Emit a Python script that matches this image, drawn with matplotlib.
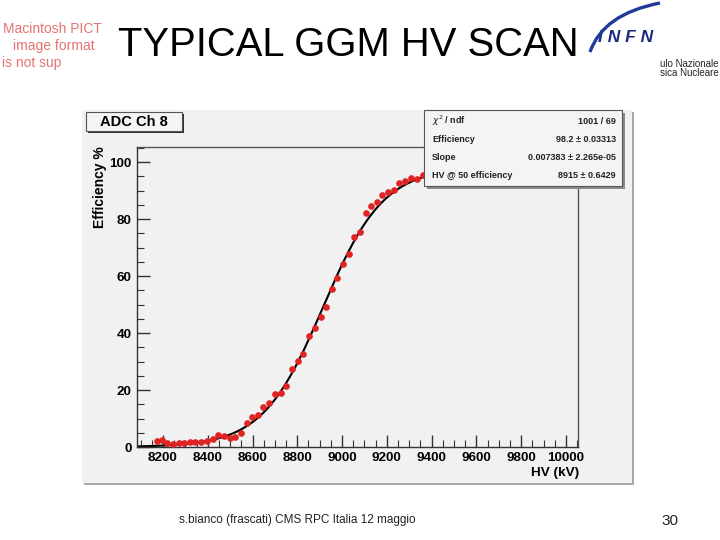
import numpy as np
import matplotlib
matplotlib.use("Agg")
import matplotlib.pyplot as plt
from matplotlib.patches import Rectangle, PathPatch
from matplotlib.path import Path
from matplotlib.transforms import IdentityTransform
from matplotlib.ticker import MultipleLocator

plt.rcParams["font.family"] = ["Liberation Sans", "DejaVu Sans"]

# ======================== data ======================== #
hv = [8172, 8194, 8219, 8246, 8270, 8295, 8320, 8345, 8370, 8395,
      8422, 8447, 8473, 8499, 8522, 8549, 8574, 8599, 8626, 8648,
      8675, 8700, 8726, 8750, 8775, 8802, 8827, 8854, 8879, 8905,
      8928, 8954, 8979, 9006, 9031, 9055, 9080, 9106, 9129, 9155,
      9180, 9207, 9232, 9256, 9281, 9307, 9333, 9360]
eff = [2.1, 2.4, 1.5, 1.2, 1.4, 1.5, 1.7, 1.7, 1.8, 2.2,
       2.7, 4.1, 3.9, 3.2, 3.6, 4.8, 8.3, 10.4, 11.4, 14.1,
       15.6, 18.6, 18.8, 21.4, 27.3, 30.1, 32.8, 38.9, 41.6, 45.7,
       49.0, 55.3, 59.4, 64.2, 67.9, 73.8, 75.6, 82.3, 84.6, 85.9,
       88.4, 89.6, 90.2, 92.5, 93.3, 94.3, 94.2, 95.4]

# fit parameters as printed in the stats box
fit_eff = 98.2
fit_slope = 0.007383
fit_hv50 = 8915

stat_names = ["$\\chi^2$ / ndf", "Efficiency", "Slope", "HV @ 50 efficiency"]
stat_values = ["1001 / 69", "98.2 \u00b1 0.03313", "0.007383 \u00b1 2.265e-05", "8915 \u00b1 0.6429"]
x_ticks = [8200, 8400, 8600, 8800, 9000, 9200, 9400, 9600, 9800, 10000]

W, H = 720, 540


def fx(px):
    return px / W


def fy(py):
    return 1 - py / H


fig = plt.figure(figsize=(7.2, 5.4), dpi=100)
fig.patch.set_facecolor("white")

# canvas background with shadow
fig.add_artist(Rectangle((fx(84), fy(485)), (634 - 84) / W, (485 - 112) / H,
                         transform=fig.transFigure, facecolor="#a8a8a8", edgecolor="none", zorder=-3))
fig.add_artist(Rectangle((fx(82), fy(483)), (632 - 82) / W, (483 - 110) / H,
                         transform=fig.transFigure, facecolor="#f1f1f1", edgecolor="none", zorder=-2))

ax = fig.add_axes([fx(137), fy(447), (578 - 137) / W, (447 - 147) / H])
ax.set_facecolor("#f1f1f1")
ax.set_xlim(8084, 10054)
ax.set_ylim(0, 105.3)

xs = np.linspace(8084, 10054, 400)
ax.plot(xs, fit_eff / (1 + np.exp(-fit_slope * (xs - fit_hv50))), color="black", lw=1.5, zorder=2)
ax.plot(hv, eff, "o", color="#e02424", markersize=4.8, markeredgewidth=0, zorder=3)

for side in ["left", "bottom"]:
    ax.spines[side].set_color("#333333")
    ax.spines[side].set_linewidth(1.0)
for side in ["top", "right"]:
    ax.spines[side].set_color("#555555")
    ax.spines[side].set_linewidth(1.0)

ax.xaxis.set_minor_locator(MultipleLocator(50))
ax.yaxis.set_major_locator(MultipleLocator(20))
ax.yaxis.set_minor_locator(MultipleLocator(5))
ax.set_xticks(x_ticks)
ax.set_xticklabels([str(t) for t in x_ticks])
ax.tick_params(which="both", direction="in", top=False, right=False, colors="#333333")
ax.tick_params(which="major", length=9, width=1)
ax.tick_params(which="minor", length=5, width=0.8)
ax.tick_params(axis="x", pad=3.5)
ax.tick_params(axis="y", pad=4)
for lab in ax.get_xticklabels() + ax.get_yticklabels():
    lab.set_fontweight("bold")
    lab.set_fontsize(9.7)
    lab.set_color("black")

fig.text(fx(100), fy(146), "Efficiency %", rotation=90, ha="center", va="top",
         fontsize=10, fontweight="bold")
fig.text(fx(579), fy(473), "HV (kV)", ha="right", va="center", fontsize=9.7, fontweight="bold")

# title box
fig.add_artist(Rectangle((fx(88), fy(133)), 96 / W, 19 / H, transform=fig.transFigure,
                         facecolor="#303030", edgecolor="none", zorder=5))
fig.add_artist(Rectangle((fx(86), fy(131)), 96 / W, 19 / H, transform=fig.transFigure,
                         facecolor="#f4f4f4", edgecolor="#555555", lw=0.8, zorder=6))
fig.text(fx(134), fy(122), "ADC Ch 8", ha="center", va="center", fontsize=10.6,
         fontweight="bold", zorder=7)

# stats box
fig.add_artist(Rectangle((fx(427), fy(189)), 198 / W, 76 / H, transform=fig.transFigure,
                         facecolor="#8a8a8a", edgecolor="none", zorder=5))
fig.add_artist(Rectangle((fx(424), fy(186)), 198 / W, 76 / H, transform=fig.transFigure,
                         facecolor="#f4f4f4", edgecolor="#555555", lw=0.8, zorder=6))
rows = [121, 139, 158, 176]
for name, val, r in zip(stat_names, stat_values, rows):
    fig.text(fx(432), fy(r), name, ha="left", va="center", fontsize=6.5, fontweight="bold",
             color="#222222", zorder=7)
    fig.text(fx(616), fy(r), val, ha="right", va="center", fontsize=6.5, fontweight="bold",
             color="#222222", zorder=7)

# slide decorations
fig.text(fx(118), fy(45), "TYPICAL GGM HV SCAN", ha="left", va="center", fontsize=28.8)
for txt, yy, xx, ha in [("Macintosh PICT", 29, 52, "center"), ("image format", 46, 54, "center"),
                        ("is not sup", 63, 2, "left")]:
    fig.text(fx(xx), fy(yy), txt, ha=ha, va="center", fontsize=10, color="#e77272")

arc = Path([(590, 540 - 52), (603, 540 - 14), (660, 540 - 3)],
           [Path.MOVETO, Path.CURVE3, Path.CURVE3])
fig.add_artist(PathPatch(arc, transform=IdentityTransform(),
                         facecolor="none", edgecolor="#1f3a99", lw=2.4, zorder=5))
fig.text(fx(598), fy(38), "I N F N", ha="left", va="center", fontsize=12.5, fontweight="bold",
         style="italic", color="#1c2a80")
fig.text(fx(719), fy(64), "ulo Nazionale", ha="right", va="center", fontsize=7, color="#222222")
fig.text(fx(719), fy(73), "sica Nucleare", ha="right", va="center", fontsize=7, color="#222222")

fig.text(fx(297), fy(520), "s.bianco (frascati) CMS RPC Italia 12 maggio", ha="center",
         va="center", fontsize=8.5, color="#222222")
fig.text(fx(670), fy(521), "30", ha="center", va="center", fontsize=11, color="#222222")

fig.savefig("out.png", dpi=100)
